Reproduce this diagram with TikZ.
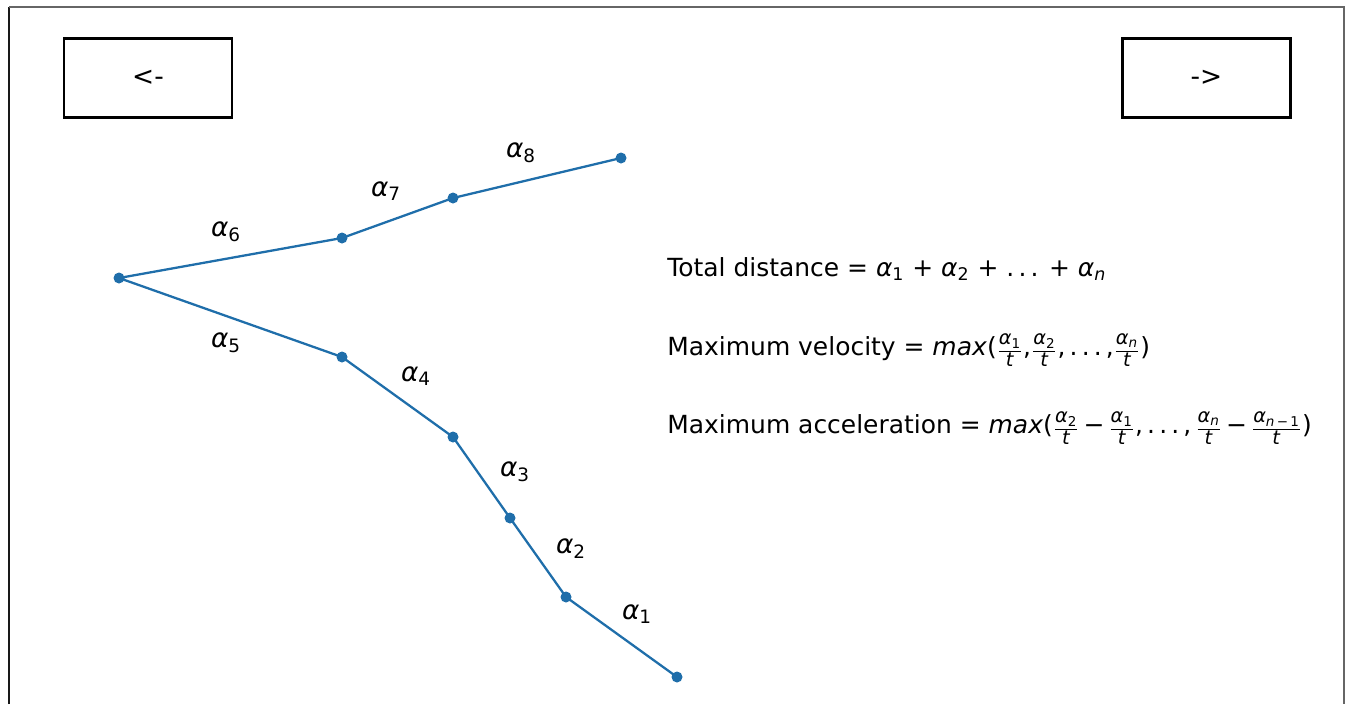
\documentclass[tikz,border=0pt]{standalone}
\usepackage{fontspec}
\setmainfont{DejaVu Sans}
\definecolor{mplblue}{RGB}{31,110,170}
\newcommand{\al}[1]{\textit{α}\textsubscript{#1}}
\newcommand{\fr}[2]{$\vcenter{\hbox{$\frac{\hbox{\fontsize{11}{11}\selectfont\strut #1}}{\hbox{\fontsize{11}{11}\selectfont #2}}$}}$}
\begin{document}
\begin{tikzpicture}[x=0.02cm,y=-0.02cm,
  pt/.style={circle,fill=mplblue,inner sep=0pt,minimum size=0.22cm},
  seg/.style={mplblue,line width=1.3pt},
  lab/.style={font=\fontsize{15}{15}\selectfont,inner sep=0pt},
  btn/.style={draw,line width=1.3pt,minimum width=3.36cm,minimum height=1.58cm,font=\fontsize{15}{15}\selectfont},
  frm/.style={anchor=west,font=\fontsize{14.2}{14.2}\selectfont,inner sep=0pt}]
\useasboundingbox (0,0) rectangle (1351,704);
% frame
\coordinate (fl1) at (9,7); \coordinate (fl2) at (9,704);
\coordinate (fr1) at (1344,7); \coordinate (fr2) at (1344,704);
\draw[line width=1.4pt,black!90] (fl2) -- (fl1);
\draw[line width=1.4pt,black!60] (fl1) -- (fr1) -- (fr2);
% buttons
\node[btn] (back) at (148,78) {<-};
\node[btn] (fwd) at (1206.5,78) {->};
% points
\node[pt] (p0) at (119,278) {};
\node[pt] (u1) at (342,238) {};
\node[pt] (u2) at (453,198) {};
\node[pt] (u3) at (621,158) {};
\node[pt] (d1) at (342,357) {};
\node[pt] (d2) at (453,437) {};
\node[pt] (d3) at (510,518) {};
\node[pt] (d4) at (566,597) {};
\node[pt] (d5) at (677,677) {};
\draw[seg] (u3.center) -- (u2.center) -- (u1.center) -- (p0.center) -- (d1.center) -- (d2.center) -- (d3.center) -- (d4.center) -- (d5.center);
% labels
\node[lab] (a8) at (521,153) {\al{8}};
\node[lab] (a7) at (386,191) {\al{7}};
\node[lab] (a6) at (226,232) {\al{6}};
\node[lab] (a5) at (226,343) {\al{5}};
\node[lab] (a4) at (416,376) {\al{4}};
\node[lab] (a3) at (515,472) {\al{3}};
\node[lab] (a2) at (571,549) {\al{2}};
\node[lab] (a1) at (637,614) {\al{1}};
% formulas
\node[frm] (f1) at (667,269) {Total distance = \al{1} + \al{2} + .\,.\,. + \al{\textit{n}}};
\node[frm] (f2) at (667,349) {Maximum velocity = \textit{max}(\fr{\al{1}}{\textit{t}},\fr{\al{2}}{\textit{t}},\,.\,.\,.\,,\fr{\al{\textit{n}}}{\textit{t}})};
\node[frm] (f3) at (667,427) {Maximum acceleration = \textit{max}(\fr{\al{2}}{\textit{t}}\,−\,\fr{\al{1}}{\textit{t}},\,.\,.\,.\,,\,\fr{\al{\textit{n}}}{\textit{t}}\,−\,\fr{\al{\textit{n}\,−\,1}}{\textit{t}})};
\end{tikzpicture}
\end{document}
